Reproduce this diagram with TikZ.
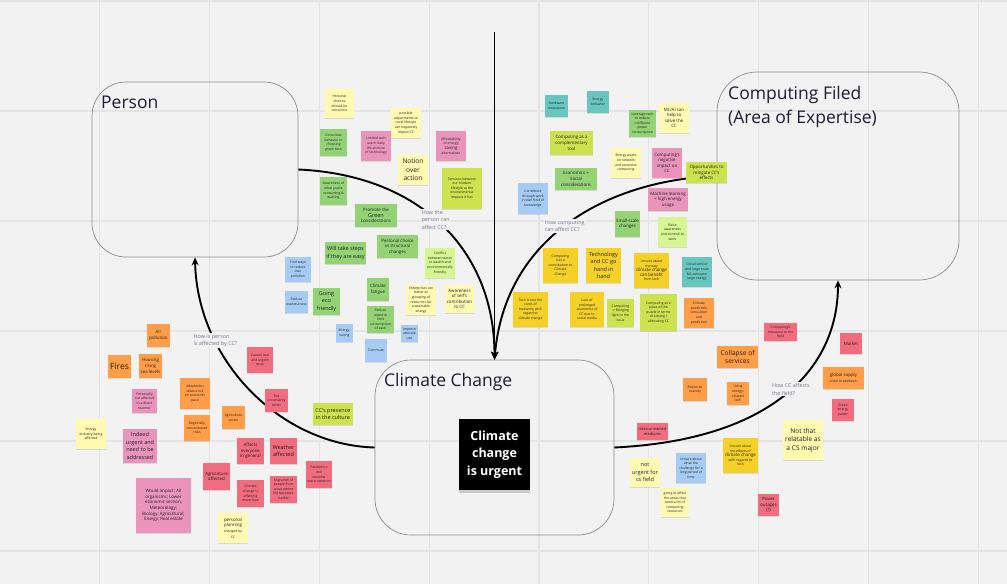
\documentclass[tikz,border=0pt]{standalone}
\usepackage{fontspec}
\setmainfont{Open Sans}
\usetikzlibrary{arrows.meta,shadows}

\definecolor{cBg}{HTML}{F2F2F2}
\definecolor{cGrid}{HTML}{E4E4E4}
\definecolor{cBox}{HTML}{8C8C8C}
\definecolor{cTitle}{HTML}{1C1C34}
\definecolor{cLbl}{HTML}{74748E}
\definecolor{cTxt}{HTML}{222222}
\definecolor{cLY}{HTML}{FFF9B1}
\definecolor{cYel}{HTML}{F5D128}
\definecolor{cOra}{HTML}{FF9D48}
\definecolor{cLGr}{HTML}{D5F692}
\definecolor{cLim}{HTML}{CDE24F}
\definecolor{cGrn}{HTML}{93D275}
\definecolor{cCya}{HTML}{67C6C0}
\definecolor{cPnk}{HTML}{EA94BB}
\definecolor{cRed}{HTML}{F16C7F}
\definecolor{cBlu}{HTML}{A6CCF5}

\newcommand\notetiny{\fontsize{3.4}{4.6}\selectfont}
\newcommand\notesmall{\fontsize{4.4}{5.6}\selectfont}
\newcommand\notemid{\fontsize{5.5}{7.4}\selectfont}
\newcommand\notebig{\fontsize{6.6}{8.5}\selectfont}
\newcommand\titlefont{\fontsize{17.5}{24}\selectfont}

\tikzset{
	areabox/.style = {draw = cBox, line width = 0.7pt, rounded corners = #1, inner sep = 0pt},
	boxtitle/.style = {font = \titlefont, text = cTitle, align = left, inner sep = 0pt},
	note/.style = {rectangle, fill = #1, text = cTxt, align = center, inner sep = 0.5pt, font = \notetiny,
		drop shadow = {opacity = 0.22, shadow xshift = 0pt, shadow yshift = -1.3pt}},
	ns/.style 2 args = {minimum width = #1pt, minimum height = #2pt},
	urgentbox/.style = {rectangle, fill = black, text = white, align = center, minimum width = 71pt, minimum height = 71pt,
		font = \fontsize{12.5}{17.5}\selectfont\bfseries,
		drop shadow = {opacity = 0.35, shadow xshift = 0pt, shadow yshift = -3pt}},
	conn/.style = {line width = 1.9pt, -{Stealth[length = 8pt, width = 7pt]}},
	lbl/.style = {font = \fontsize{5.4}{7.6}\selectfont, text = cLbl, align = left, fill = cBg, inner sep = 1pt}
}

\begin{document}
\begin{tikzpicture}[x = 1pt, y = -1pt]
	\fill[cBg] (0,0) rectangle (1007,584);
	\useasboundingbox (0,0) rectangle (1007,584);
	\foreach \gx in {0,...,9}
		\draw[cGrid, line width = 1.1pt] ({-10+109.8*\gx},0) -- ({-10+109.8*\gx},584);
	\foreach \gy in {0,...,5}
		\draw[cGrid, line width = 1.1pt] (0,{1+110*\gy}) -- (1007,{1+110*\gy});

	\node[areabox = 34pt, minimum width = 206pt, minimum height = 175pt] (person) at (195,169.5) {};
	\node[areabox = 40pt, minimum width = 242pt, minimum height = 208pt] (computing) at (838,176) {};
	\node[areabox = 36pt, minimum width = 239pt, minimum height = 175pt] (climate) at (494.5,447.5) {};
	\node[boxtitle, anchor = base west] (persontitle) at (101,108) {Person};
	\node[boxtitle, anchor = base west] (computingtitle) at (728,123) {Computing Filed\\(Area of Expertise)};
	\node[boxtitle, anchor = base west] (climatetitle) at (384,386) {Climate Change};

	\coordinate (top) at (494.5,32);
	\draw[conn] (top) -- (climate.north);
	\draw[conn] (person.east) .. controls (420,175) and (494.5,250) .. (climate.north)
		node[lbl, pos = 0.47] (personlbl) {How the\\person can\\affect CC?};
	\draw[conn] (computing.west) .. controls (610,180) and (505,235) .. (climate.north)
		node[lbl, pos = 0.52] (computinglbl) {How computing\\can affect CC?};
	\draw[conn] (climate.west) .. controls (280,445) and (197,360) .. (person.south)
		node[lbl, pos = 0.71] (affectlbl) {How is person\\is affected by CC?};
	\draw[conn] (climate.east) .. controls (770,440) and (838,370) .. (computing.south)
		node[lbl, pos = 0.53] (fieldlbl) {How CC affects\\the field?};

	% how the person can affect CC
	\node[note = cLY, ns = {29}{29}] (p1) at (339.5,103.5) {Personal\\choices\\should be\\conscious};
	\node[note = cLY, ns = {30}{30}] (p2) at (406,123) {possible\\adjustments to\\rural lifestyle\\can negatively\\impact CC};
	\node[note = cGrn, ns = {27}{27}] (p3) at (333.5,142.5) {Conscious\\behavior in\\choosing\\green tech};
	\node[note = cPnk, ns = {30}{30}] (p4) at (376,146) {Limited tech\\use in daily\\life and use\\of technology};
	\node[note = cPnk, ns = {30}{30}] (p5) at (451,146) {Affordability\\of energy\\{\notesmall saving}\\alternatives};
	\node[note = cLY, ns = {30}{30}, font = \notebig] (p6) at (413,170) {Notion\\over\\action};
	\node[note = cGrn, ns = {27}{28}] (p7) at (333.5,191) {Awareness of\\what you're\\consuming \&\\wasting};
	\node[note = cLim, ns = {40}{41}] (p8) at (462,188.5) {Tensions between\\our modern\\lifestyle vs the\\environmental\\impacts it has};
	\node[note = cGrn, ns = {42}{23}, font = \notesmall] (p9) at (376,215.5) {Promote the\\{\notemid Green}\\considerations};
	\node[note = cGrn, ns = {41}{23}, font = \notesmall] (p10) at (397.5,246.5) {Personal choice\\vs structural\\changes};
	\node[note = cGrn, ns = {41}{22}, font = \notemid] (p11) at (345.5,253) {Will take steps\\if they are easy};
	\node[note = cBlu, ns = {26}{25}] (p12) at (298,269.5) {Find ways\\to reduce\\own\\pollution};
	\node[note = cLGr, ns = {30}{30}] (p13) at (440,263) {Conflict\\between waste\\to wealth and\\environmentally\\friendly};
	\node[note = cBlu, ns = {23}{22}] (p14) at (296.5,302) {Reduce\\wastefulness};
	\node[note = cGrn, ns = {27}{27}, font = \notemid] (p15) at (326.5,301.5) {Going\\eco\\friendly};
	\node[note = cGrn, ns = {22}{23}, font = \notesmall] (p16) at (378,289.5) {Climate\\fatigue};
	\node[note = cLY, ns = {30}{30}] (p17) at (421,300) {Enterprises are\\better at\\grouping of\\resources for\\sustainable\\energy};
	\node[note = cLY, ns = {29}{28}, font = \notesmall] (p18) at (459.5,299) {Awareness\\of self's\\contribution\\to CC};
	\node[note = cGrn, ns = {27}{27}] (p19) at (380.5,319.5) {Reduce\\waste \&\\limit\\consumption\\of each};
	\node[note = cBlu, ns = {17}{18}] (p20) at (344.5,333) {Energy-\\saving};
	\node[note = cBlu, ns = {17}{17}] (p21) at (409.5,333.5) {Improve\\attitude\\use};
	\node[note = cBlu, ns = {22}{23}] (p22) at (376,350.5) {Commute};
	\node[note = cLim, ns = {40}{22}, font = \notemid] (p23) at (333,414) {CC's presence\\in the culture};

	% how the person is affected by CC
	\node[note = cRed, ns = {26}{26}] (a1) at (260,360) {Causes real\\and urgent\\issue};
	\node[note = cRed, ns = {23}{23}] (a2) at (276.5,400.5) {Too\\uncertainty\\exists};
	\node[note = cOra, ns = {23}{23}, font = \notesmall] (a3) at (158.5,335.5) {Air\\pollution};
	\node[note = cOra, ns = {23}{23}, font = \fontsize{8.5}{10}\selectfont] (a4) at (119.5,366.5) {Fires};
	\node[note = cOra, ns = {23}{24}, font = \notesmall] (a5) at (150.5,366) {Housing\\rising\\sea levels};
	\node[note = cOra, ns = {30}{31}] (a6) at (195,393.5) {Adaptation\\takes a toll\\on economic\\pace};
	\node[note = cPnk, ns = {25}{24}] (a7) at (144.5,401) {Personally\\not affected\\in a direct\\manner};
	\node[note = cOra, ns = {23}{23}] (a8) at (233.5,417.5) {Agriculture\\sector};
	\node[note = cOra, ns = {26}{26}] (a9) at (197,428) {Regionally\\concentrated\\risks};
	\node[note = cLY, ns = {30}{30}] (a10) at (91,434) {Energy\\industry being\\affected};
	\node[note = cPnk, ns = {34}{34}, font = \notemid] (a11) at (140,446) {Indeed\\urgent and\\need to be\\addressed};
	\node[note = cRed, ns = {27}{26}, font = \notesmall] (a12) at (250.5,451) {Affects\\everyone\\in general};
	\node[note = cRed, ns = {27}{26}, font = \notemid] (a13) at (283.5,451) {Weather\\affected};
	\node[note = cRed, ns = {27}{27}, font = \notesmall] (a14) at (216.5,476.5) {Agriculture\\affected};
	\node[note = cRed, ns = {27}{27}] (a15) at (250.5,493.5) {Climate\\change is\\affecting\\more fires};
	\node[note = cRed, ns = {27}{27}] (a16) at (283.5,489) {Migration of\\people from\\areas where\\life becomes\\harder};
	\node[note = cRed, ns = {26}{27}] (a17) at (319,474.5) {Pandemics\\will\\become\\more common};
	\node[note = cPnk, ns = {55}{55}, font = \notesmall] (a18) at (163.5,505.5) {Would impact: All\\organisms; Lower\\economic section;\\Meteorology;\\Biology; Agricultural;\\Energy; Real estate};
	\node[note = cLY, ns = {30}{30}, font = \notesmall] (a19) at (233,528) {personal\\planning\\{\notetiny changed by}\\{\notetiny CC}};

	% how computing can affect CC
	\node[note = cCya, ns = {23}{22}] (c1) at (556.5,106) {Hardware\\innovation};
	\node[note = cCya, ns = {22}{22}] (c2) at (598,102) {Energy\\behavior};
	\node[note = cGrn, ns = {27}{27}] (c3) at (642.5,123.5) {Leverage tech\\to reduce\\inefficient\\power\\consumption};
	\node[note = cLY, ns = {30}{30}, font = \notesmall] (c4) at (674,118) {ML/AI can\\help to\\solve the\\CC};
	\node[note = cLim, ns = {43}{24}, font = \notesmall] (c5) at (571.5,143) {Computing as a\\complementary\\tool};
	\node[note = cLY, ns = {30}{30}] (c6) at (626,163) {Energy waste\\on network\\and excessive\\computing};
	\node[note = cPnk, ns = {30}{30}, font = \notesmall] (c7) at (667,163) {Computing's\\negative\\impact on\\CC};
	\node[note = cLim, ns = {41}{21}, font = \notesmall] (c8) at (706.5,172.5) {Opportunities to\\mitigate CC's\\effects};
	\node[note = cGrn, ns = {42}{22}, font = \notesmall] (c9) at (576,179) {Economics +\\Social\\considerations};
	\node[note = cBlu, ns = {30}{31}] (c10) at (533,198.5) {Contribute\\through work\\in own field of\\knowledge};
	\node[note = cPnk, ns = {40}{23}, font = \notesmall] (c11) at (668,199.5) {Machine learning\\= high energy\\usage};
	\node[note = cGrn, ns = {25}{26}, font = \notesmall] (c12) at (627.5,224) {Small-scale\\changes};
	\node[note = cLGr, ns = {29}{30}] (c13) at (672.5,232) {Raise\\awareness\\and commit to\\work};
	\node[note = cYel, ns = {35}{35}] (c14) at (560.5,265.5) {Computing\\has a\\contribution to\\Climate\\Change};
	\node[note = cYel, ns = {35}{35}, font = \notemid] (c15) at (603.5,265.5) {Technology\\and CC go\\hand in\\hand};
	\node[note = cYel, ns = {35}{35}] (c16) at (651.5,270.5) {Unsure about\\the way\\{\notesmall climate change}\\{\notesmall can benefit}\\from tech};
	\node[note = cCya, ns = {30}{30}] (c17) at (697,272) {Cloud service\\and large scale\\ML consume\\large energy};
	\node[note = cYel, ns = {35}{35}] (c18) at (530.5,309.5) {Tech is one the\\cures of\\humanity with\\regard to\\climate change};
	\node[note = cYel, ns = {34}{35}] (c19) at (587,309.5) {Lack of\\prolonged\\awareness of\\CC due to\\social media};
	\node[note = cLim, ns = {27}{28}] (c20) at (620.5,313) {Computing\\-> Bringing\\light to the\\issue};
	\node[note = cLim, ns = {37}{37}] (c21) at (658.5,312.5) {Computing as a\\piece of the\\puzzle in terms\\of solving /\\alleviating CC};
	\node[note = cOra, ns = {30}{30}] (c22) at (699,313) {Climate\\prediction\\simulation\\and\\prediction};

	% how CC affects the field
	\node[note = cRed, ns = {33}{18}] (f1) at (780.5,332) {Computing's\\relevance to the\\field};
	\node[note = cOra, ns = {41}{22}, font = \notebig] (f2) at (737.5,357) {Collapse of\\services};
	\node[note = cOra, ns = {24}{23}] (f3) at (695,389.5) {Resource\\scarcity};
	\node[note = cOra, ns = {22}{23}] (f4) at (738,393.5) {Using\\energy-\\related\\tech};
	\node[note = cRed, ns = {31}{17}, font = \fontsize{3.9}{5}\selectfont] (f5) at (652.5,431.5) {Interconnected\\mediums};
	\node[note = cYel, ns = {35}{35}] (f6) at (740.5,455.5) {Unsure about\\the effects of\\{\notesmall climate change}\\with regards to\\tech};
	\node[note = cLY, ns = {40}{40}, font = \notebig] (f7) at (803,440) {Not that\\relatable as\\a CS major};
	\node[note = cLY, ns = {30}{29}, font = \notemid] (f8) at (645,472.5) {not\\urgent for\\cs field};
	\node[note = cBlu, ns = {30}{30}] (f9) at (691,468) {Unsure about\\what the\\challenge for a\\long period of\\time};
	\node[note = cLY, ns = {28}{29}] (f10) at (675,502.5) {going to affect\\the areas that\\need a lot of\\computing\\resources};
	\node[note = cRed, ns = {21}{22}, font = \notesmall] (f11) at (768.5,505) {Power\\outages\\(?)};
	\node[note = cRed, ns = {22}{21}, font = \notesmall] (f12) at (851,343.5) {Market};
	\node[note = cOra, ns = {41}{22}, font = \notesmall] (f13) at (843.5,378) {global supply\\{\notetiny chain breakdown}};
	\node[note = cRed, ns = {22}{22}] (f14) at (843,410) {Green\\energy\\power};

	\node[urgentbox] (urgent) at (494.5,454.5) {Climate\\change\\is urgent};
\end{tikzpicture}
\end{document}
